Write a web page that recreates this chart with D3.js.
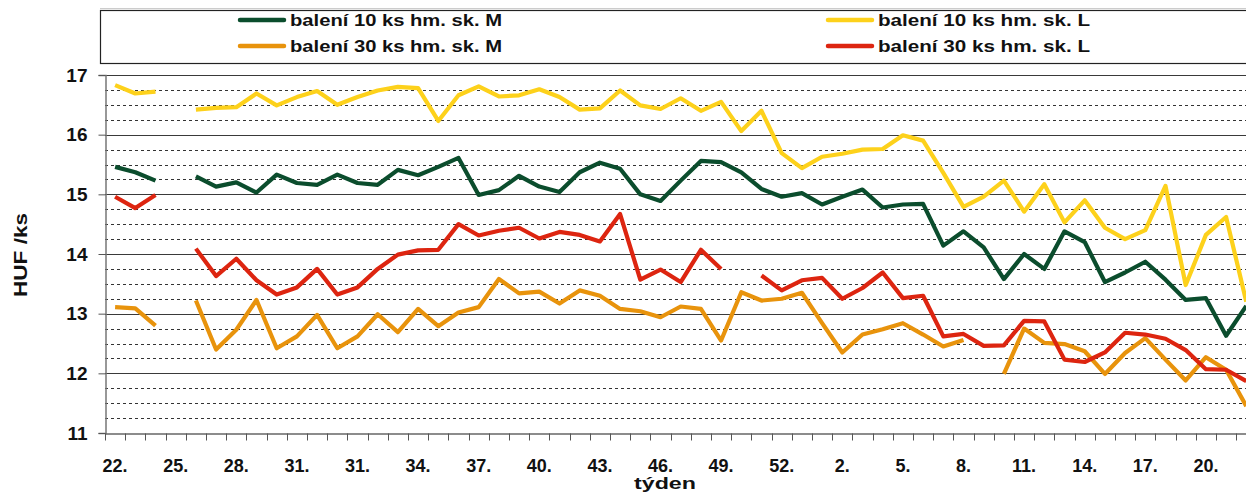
<!DOCTYPE html>
<html>
<head>
<meta charset="utf-8">
<script src="https://cdn.jsdelivr.net/npm/d3@7"></script>
<style>
  html, body { margin: 0; padding: 0; background: #fff; }
  svg { display: block; font-family: "Liberation Sans", Arial, sans-serif; font-weight: bold; }
</style>
</head>
<body>
<svg id="chart" width="1246" height="495"></svg>
<script>
// ---- data ----
const weeks = ["22.","23.","24.","25.","26.","27.","28.","29.","30.","31.","32.","33.",
  "31.","32.","33.","34.","35.","36.","37.","38.","39.","40.","41.","42.","43.","44.","45.",
  "46.","47.","48.","49.","50.","51.","52.","53.","1.","2.","3.","4.","5.","6.","7.","8.",
  "9.","10.","11.","12.","13.","14.","15.","16.","17.","18.","19.","20.","21.","22."];

const seriesNames = ["balení 10 ks hm. sk. M", "balení 10 ks hm. sk. L",
                     "balení 30 ks hm. sk. M", "balení 30 ks hm. sk. L"];

const pack10M = [15.46,15.37,15.23,null,15.30,15.13,15.20,15.03,15.33,15.19,15.16,15.33,15.19,15.16,15.41,15.32,
  15.46,15.61,14.99,15.07,15.31,15.13,15.04,15.37,15.53,15.43,15.00,14.89,15.23,15.56,15.54,15.37,15.09,14.96,
  15.02,14.83,14.96,15.08,14.78,14.83,14.84,14.14,14.38,14.11,13.58,14.00,13.75,14.38,14.20,13.53,13.69,13.87,
  13.57,13.23,13.26,12.63,13.13];

const pack10L = [16.83,16.69,16.72,null,16.42,16.45,16.46,16.69,16.49,16.63,16.73,16.50,16.63,16.74,16.80,16.78,
  16.23,16.66,16.81,16.64,16.66,16.76,16.63,16.42,16.44,16.74,16.49,16.43,16.61,16.40,16.55,16.06,16.40,15.69,
  15.44,15.63,15.68,15.75,15.76,15.99,15.90,15.36,14.79,14.96,15.23,14.71,15.17,14.53,14.90,14.44,14.25,14.40,
  15.14,13.48,14.32,14.62,13.20];

const pack30M = [13.11,13.09,12.80,null,13.22,12.40,12.73,13.23,12.42,12.62,12.98,12.42,12.62,12.99,12.69,13.08,
  12.79,13.02,13.11,13.58,13.34,13.37,13.17,13.39,13.30,13.08,13.04,12.94,13.12,13.08,12.55,13.36,13.22,13.25,
  13.35,12.84,12.35,12.65,12.74,12.84,12.65,12.45,12.56,null,11.99,12.75,12.51,12.49,12.37,11.99,12.34,12.59,
  12.23,11.88,12.27,12.06,11.45];

const pack30L = [14.96,14.77,14.99,null,14.09,13.63,13.92,13.56,13.32,13.44,13.75,13.32,13.44,13.75,13.99,14.06,
  14.07,14.50,14.31,14.39,14.44,14.26,14.37,14.32,14.21,14.67,13.57,13.74,13.53,14.07,13.75,null,13.64,13.39,
  13.56,13.60,13.25,13.43,13.69,13.26,13.30,12.62,12.66,12.46,12.47,12.88,12.87,12.23,12.19,12.35,12.68,12.65,
  12.58,12.39,12.07,12.06,11.87];

const yTickValues = [11, 12, 13, 14, 15, 16, 17];
const yTitle = "HUF /ks";
const xTitle = "týden";

// ---- layout ----
const svg = d3.select("#chart");
const plotLeft = 105, plotTop = 75, plotBottom = 433;
const step = 20.2;
const plotRight = plotLeft + weeks.length * step;

const x = d3.scaleBand().domain(d3.range(weeks.length)).range([plotLeft, plotRight]).padding(0);
const y = d3.scaleLinear().domain([11, 17]).range([plotBottom, plotTop]);
const cx = i => x(i) + x.bandwidth() / 2;

const colors = {
  "10M": "#0b4d2d",
  "10L": "#fdd11b",
  "30M": "#e8930c",
  "30L": "#dd2510"
};

// grid lines (minor dashed)
const minor = d3.range(11.25, 17, 0.25).filter(v => Math.abs(v - Math.round(v)) > 0.01);
svg.append("g").selectAll("line").data(minor).join("line")
  .attr("x1", plotLeft).attr("x2", 1246)
  .attr("y1", d => Math.round(y(d)) + 0.5).attr("y2", d => Math.round(y(d)) + 0.5)
  .attr("stroke", "#333").attr("stroke-width", 1).attr("stroke-dasharray", "3,3");

// major gridlines
svg.append("g").selectAll("line").data(yTickValues.filter(v => v > 11)).join("line")
  .attr("x1", plotLeft).attr("x2", 1246)
  .attr("y1", d => Math.round(y(d)) + 0.5).attr("y2", d => Math.round(y(d)) + 0.5)
  .attr("stroke", "#3a3a3a").attr("stroke-width", 1.2);

// y axis
const yAxis = d3.axisLeft(y).tickValues(yTickValues).tickSize(7).tickPadding(11).tickFormat(d3.format("d"));
const gy = svg.append("g").attr("transform", `translate(${plotLeft + 0.5},0)`).call(yAxis);
gy.select(".domain").attr("stroke", "#777").attr("stroke-width", 1.5);
gy.selectAll(".tick line").attr("stroke", "#555");
gy.selectAll(".tick text").attr("font-size", 19).attr("font-weight", "bold")
  .attr("font-family", "Liberation Sans, Arial, sans-serif").attr("fill", "#111");

// x axis
const xAxis = d3.axisBottom(x).tickSize(0).tickFormat(i => i % 3 === 0 ? weeks[i] : "");
const gx = svg.append("g").attr("transform", `translate(0,${plotBottom + 0.5})`).call(xAxis);
gx.select(".domain").attr("stroke", "#666").attr("stroke-width", 1.5);
gx.selectAll(".tick text").attr("font-size", 18).attr("font-weight", "bold")
  .attr("font-family", "Liberation Sans, Arial, sans-serif").attr("fill", "#111")
  .attr("dy", 0).attr("y", 38);
// x tick marks at category boundaries
gx.append("g").selectAll("line").data(d3.range(weeks.length + 1)).join("line")
  .attr("x1", i => Math.round(plotLeft + i * step) + 0.5).attr("x2", i => Math.round(plotLeft + i * step) + 0.5)
  .attr("y1", 0).attr("y2", 7).attr("stroke", "#555");

// axis titles
svg.append("text").attr("x", 665).attr("y", 489).attr("text-anchor", "middle")
  .attr("font-size", 16).attr("textLength", 62).attr("lengthAdjust", "spacingAndGlyphs")
  .attr("fill", "#111").text(xTitle);
svg.append("text").attr("transform", "translate(27,255) rotate(-90)").attr("text-anchor", "middle")
  .attr("font-size", 19).attr("textLength", 84).attr("lengthAdjust", "spacingAndGlyphs")
  .attr("fill", "#111").text(yTitle);

// series lines
const line = d3.line().defined(d => d != null).x((d, i) => cx(i)).y(d => y(d));
const series = [
  { key: "10L", values: pack10L },
  { key: "10M", values: pack10M },
  { key: "30M", values: pack30M },
  { key: "30L", values: pack30L }
];
svg.append("g").selectAll("path").data(series).join("path")
  .attr("d", s => line(s.values))
  .attr("fill", "none").attr("stroke", s => colors[s.key])
  .attr("stroke-width", 4.2).attr("stroke-linejoin", "round").attr("stroke-linecap", "butt");

// legend
const lg = svg.append("g");
lg.append("line").attr("x1", 100).attr("x2", 1246).attr("y1", 8.5).attr("y2", 8.5).attr("stroke", "#ccc");
lg.append("rect").attr("x", 100.5).attr("y", 10.5).attr("width", 1160).attr("height", 53)
  .attr("fill", "#fff").attr("stroke", "#222").attr("stroke-width", 1.2);
const legendItems = [
  { key: "10M", name: seriesNames[0], lx: 240, ly: 20 },
  { key: "30M", name: seriesNames[2], lx: 240, ly: 46 },
  { key: "10L", name: seriesNames[1], lx: 828, ly: 20 },
  { key: "30L", name: seriesNames[3], lx: 828, ly: 46 }
];
const li = lg.selectAll("g.item").data(legendItems).join("g").attr("class", "item");
li.append("line").attr("x1", d => d.lx).attr("x2", d => d.lx + 44)
  .attr("y1", d => d.ly).attr("y2", d => d.ly)
  .attr("stroke", d => colors[d.key]).attr("stroke-width", 4.5).attr("stroke-linecap", "round");
li.append("text").attr("x", d => d.lx + 50).attr("y", d => d.ly).attr("dy", "0.36em")
  .attr("font-size", 17).attr("fill", "#111")
  .attr("textLength", 212).attr("lengthAdjust", "spacingAndGlyphs")
  .text(d => d.name);
</script>
</body>
</html>
